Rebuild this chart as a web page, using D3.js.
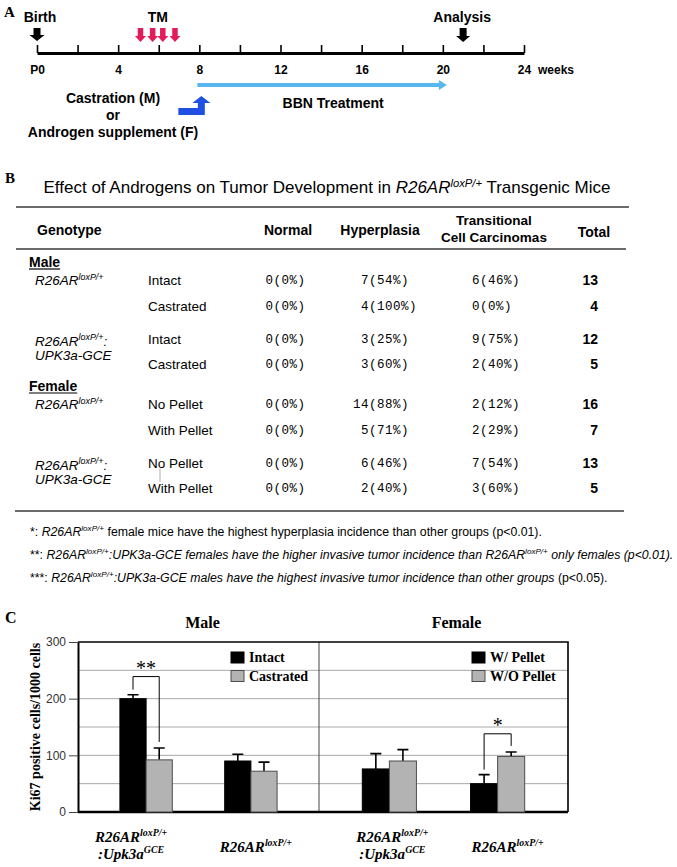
<!DOCTYPE html>
<meta charset="utf-8">
<head>
<title>Androgens and tumor development</title>
<script src="https://d3js.org/d3.v7.min.js"></script>
</head>
<style>
body { margin: 0; background: #fff; }
svg { display: block; }
</style>
<body>
<svg width="677" height="867"></svg>
<script>

// ---- panel A : timeline, in weeks ----
let weekTicks = d3.range(0, 25, 2);
let birthWeek = 0;
let tmWeeks = [5.1, 5.7, 6.2, 6.8];
let analysisWeek = 21;
let surgeryWeek = 8;
let bbnWeeks = [8, 20.2];

// ---- panel B : table ----
let rowSex = ["Male", "Male", "Male", "Male", "Female", "Female", "Female", "Female"];
let rowGenotype = ["single", "single", "double", "double", "single", "single", "double", "double"];
let rowCondition = ["Intact", "Castrated", "Intact", "Castrated", "No Pellet", "With Pellet", "No Pellet", "With Pellet"];
let normalN = [0, 0, 0, 0, 0, 0, 0, 0];
let normalPct = [0, 0, 0, 0, 0, 0, 0, 0];
let hyperN = [7, 4, 3, 3, 14, 5, 6, 2];
let hyperPct = [54, 100, 25, 60, 88, 71, 46, 40];
let tccN = [6, 0, 9, 2, 2, 2, 7, 3];
let tccPct = [46, 0, 75, 40, 12, 29, 54, 60];
let totals = [13, 4, 12, 5, 16, 7, 13, 5];

// ---- panel C : Ki67 positive cells / 1000 cells ----
let cGroups = ["R26AR:Upk3a", "R26AR"];
let intactMean = [200, 90];
let intactErr = [7, 12];
let castratedMean = [92, 72];
let castratedErr = [21, 16];
let withPelletMean = [76, 50];
let withPelletErr = [27, 16];
let withoutPelletMean = [90, 98];
let withoutPelletErr = [20, 8];
let yTicks = [0, 100, 200, 300];

let sans = '"Liberation Sans", Arial, sans-serif';
let serif = '"Liberation Serif", "Times New Roman", serif';
let mono = '"Liberation Mono", "Courier New", monospace';

let svg = d3.select("svg");

// text with italic / superscript pieces: parts = [[text, {it, sup, b}]]
function rich(g, x, y, size, family, parts) {
  let t = g.append("text").attr("x", x).attr("y", y)
    .style("font-family", family).style("font-size", size + "px");
  let lift = 0;
  parts.forEach(function(p) {
    let o = p[1] || {};
    let s = t.append("tspan").text(p[0]);
    if (o.it) s.style("font-style", "italic");
    if (o.b) s.style("font-weight", "bold");
    if (o.sup) {
      s.style("font-size", (size * 0.66) + "px");
      if (!lift) { lift = size * 0.38; s.attr("dy", -lift); }
    } else if (lift) {
      s.attr("dy", lift); lift = 0;
    }
  });
  return t;
}

function label(g, x, y, txt, size, family, weight, anchor) {
  return g.append("text").attr("x", x).attr("y", y).text(txt)
    .style("font-family", family).style("font-size", size + "px")
    .style("font-weight", weight || "normal")
    .attr("text-anchor", anchor || "start");
}

function downArrow(g, cx, top, bot, sw, hw, hh, color) {
  g.append("path")
    .attr("d", `M${cx - sw / 2},${top}H${cx + sw / 2}V${bot - hh}H${cx + hw / 2}L${cx},${bot}L${cx - hw / 2},${bot - hh}H${cx - sw / 2}Z`)
    .attr("fill", color);
}

/* ================= A ================= */
let gA = svg.append("g");
let xw = d3.scaleLinear().domain([0, 24]).range([37, 524]);
let axisY = 53;

label(gA, 4, 17, "A", 15, serif, "bold");

gA.append("g")
  .attr("transform", "translate(0," + axisY + ")")
  .call(d3.axisBottom(xw).tickValues(weekTicks)
    .tickSizeInner(-8).tickSizeOuter(0).tickPadding(12)
    .tickFormat(d => d % 4 ? "" : (d === 0 ? "P0" : d)))
  .call(g => {
    g.select(".domain").attr("stroke-width", 3);
    g.selectAll(".tick line").attr("stroke-width", 1.6);
    g.selectAll(".tick text").style("font-family", sans).style("font-size", "12px").style("font-weight", "bold");
  });
label(gA, xw(24) + 14, 74, "weeks", 12, sans, "bold");

downArrow(gA, xw(birthWeek), 28, 41, 7, 15, 6, "#000");
label(gA, xw(birthWeek) + 3, 22, "Birth", 14, sans, "bold", "middle");

tmWeeks.forEach(w => downArrow(gA, xw(w), 28, 42, 5.5, 11, 6, "#e31b5b"));
label(gA, d3.mean(tmWeeks, xw), 22, "TM", 14, sans, "bold", "middle");

downArrow(gA, xw(analysisWeek), 28, 42, 7, 14, 6, "#000");
label(gA, xw(analysisWeek) - 1, 22, "Analysis", 14, sans, "bold", "middle");

// BBN treatment arrow
let bx0 = xw(bbnWeeks[0]) - 2, bx1 = xw(bbnWeeks[1]);
gA.append("path")
  .attr("d", `M${bx0},83H${bx1 - 8}V80L${bx1},85L${bx1 - 8},90V87H${bx0}Z`)
  .attr("fill", "#5ab6ee");
label(gA, (xw(bbnWeeks[0]) + bx1) / 2 + 10, 108, "BBN Treatment", 14, sans, "bold", "middle");

// castration / androgen bent arrow
let cx = xw(surgeryWeek) + 2;
gA.append("path")
  .attr("d", `M${cx - 23},108H${cx - 3.5}V103H${cx - 9}L${cx},96L${cx + 9},103H${cx + 3.5}V115H${cx - 23}Z`)
  .attr("fill", "#1f4fe3");
label(gA, 113, 103, "Castration (M)", 14, sans, "bold", "middle");
label(gA, 113, 120, "or", 14, sans, "bold", "middle");
label(gA, 113, 137, "Androgen supplement (F)", 14, sans, "bold", "middle");

/* ================= B ================= */
let gB = svg.append("g");
label(gB, 5, 183, "B", 15, serif, "bold");
rich(gB, 327, 193, 17, sans, [
  ["Effect of Androgens on Tumor Development in "],
  ["R26AR", {it: true}], ["loxP/+", {it: true, sup: true}],
  [" Transgenic Mice"]
]).attr("text-anchor", "middle");

function rule(y, x0, x1) {
  gB.append("line").attr("x1", x0).attr("x2", x1).attr("y1", y).attr("y2", y)
    .attr("stroke", "#3a3a3a").attr("stroke-width", 1.6);
}
rule(207, 16, 629);
rule(249, 16, 626);
rule(511, 15, 624);

label(gB, 37, 235, "Genotype", 14, sans, "bold");
label(gB, 288, 235, "Normal", 14, sans, "bold", "middle");
label(gB, 380, 235, "Hyperplasia", 14, sans, "bold", "middle");
label(gB, 494, 225, "Transitional", 13.5, sans, "bold", "middle");
label(gB, 494, 241.5, "Cell Carcinomas", 13.5, sans, "bold", "middle");
label(gB, 594, 237, "Total", 14, sans, "bold", "middle");

// row centres
let sexIdx = d => d === "Male" ? 0 : 1;
let rowY = rowSex.map((s, i) => 280 + 25.5 * i + 7.5 * (i % 4 >= 2 ? 1 : 0) + 22 * sexIdx(s));

["Male", "Female"].forEach(s => {
  let first = rowSex.indexOf(s);
  let t = label(gB, 29, rowY[first] - 13, s, 14, sans, "bold");
  let w = t.node().getComputedTextLength();
  gB.append("line").attr("x1", 29).attr("x2", 29 + w)
    .attr("y1", rowY[first] - 11).attr("y2", rowY[first] - 11)
    .attr("stroke", "#000").attr("stroke-width", 1.2);
});

rowGenotype.forEach((g, i) => {
  if (i % 2) return;
  let y = rowY[i];
  if (g === "single") {
    rich(gB, 35, y + 5, 13.5, sans, [["R26AR", {it: true}], ["loxP/+", {it: true, sup: true}]]);
  } else {
    rich(gB, 35, y + 7, 13.5, sans, [["R26AR", {it: true}], ["loxP/+", {it: true, sup: true}], [":", {it: true}]]);
    label(gB, 35, y + 21, "UPK3a-GCE", 13.5, sans).style("font-style", "italic");
  }
});
// small stray connector in the female double-transgenic block
gB.append("line").attr("x1", 160).attr("x2", 160)
  .attr("y1", rowY[6] + 6).attr("y2", rowY[7] - 6)
  .attr("stroke", "#999").attr("stroke-width", 0.8);

let cw = 8;
function cell(x, y, n, p) {
  let s = String(n);
  gB.append("text").attr("x", x - s.length * cw).attr("y", y + 4)
    .text(s + "(" + p + "%)")
    .style("font-family", mono).style("font-size", "12.5px")
    .style("letter-spacing", "0.5px");
}
rowY.forEach((y, i) => {
  label(gB, 148, y + 5, rowCondition[i], 13.5, sans);
  cell(273.5, y, normalN[i], normalPct[i]);
  cell(369, y, hyperN[i], hyperPct[i]);
  cell(480, y, tccN[i], tccPct[i]);
  label(gB, 598, y + 5, totals[i], 14, sans, "bold", "end");
});

// footnotes
let fn = 12.3;
rich(gB, 30, 536, fn, sans, [
  ["*:  "], ["R26AR", {it: true}], ["loxP/+", {it: true, sup: true}],
  [" female mice have the highest hyperplasia incidence than other groups (p<0.01)."]
]);
rich(gB, 30, 559, fn, sans, [
  ["**: "], ["R26AR", {it: true}], ["loxP/+", {it: true, sup: true}],
  [":UPK3a-GCE females have the higher invasive tumor incidence than R26AR", {it: true}],
  ["loxP/+", {it: true, sup: true}], [" only females (p<0.01).", {it: true}]
]);
rich(gB, 30, 582, fn, sans, [
  ["***: "], ["R26AR", {it: true}], ["loxP/+", {it: true, sup: true}],
  [":UPK3a-GCE males have the highest invasive tumor incidence than other groups", {it: true}],
  [" (p<0.05)."]
]);

/* ================= C ================= */
let gC = svg.append("g");
let plot = {l: 78, r: 568, t: 642, b: 812, split: 319};
let y = d3.scaleLinear().domain([0, 300]).range([plot.b, plot.t]);

label(gC, 5, 623, "C", 16, serif, "bold");

// grid
gC.selectAll(".grid").data(d3.range(50, 300, 50)).enter().append("line")
  .attr("class", "grid")
  .attr("x1", plot.l).attr("x2", plot.r)
  .attr("y1", d => y(d)).attr("y2", d => y(d))
  .attr("stroke", "#a8a8a8").attr("stroke-width", 1);

gC.append("line").attr("x1", plot.split).attr("x2", plot.split)
  .attr("y1", plot.t).attr("y2", plot.b).attr("stroke", "#444").attr("stroke-width", 1);
gC.append("path").attr("d", `M${plot.l},${plot.t}H${plot.r}V${plot.b}`)
  .attr("fill", "none").attr("stroke", "#000").attr("stroke-width", 1.6);
gC.append("line").attr("x1", plot.l).attr("x2", plot.r).attr("y1", plot.b).attr("y2", plot.b)
  .attr("stroke", "#000").attr("stroke-width", 2.5);

gC.append("g").attr("transform", "translate(" + plot.l + ",0)")
  .call(d3.axisLeft(y).tickValues(yTicks).tickSize(9).tickSizeOuter(0).tickPadding(3))
  .call(g => {
    g.select(".domain").attr("stroke-width", 2);
    g.selectAll(".tick line").attr("stroke", "#444");
    g.selectAll(".tick text").style("font-family", sans).style("font-size", "12px").attr("fill", "#333");
  });

label(gC, 0, 0, "Ki67 positive cells/1000 cells", 14, serif, "bold", "middle")
  .attr("transform", "translate(40,727) rotate(-90)");

let panels = [
  {sex: "Male", range: [plot.l, plot.split], series: ["Intact", "Castrated"],
   means: [intactMean, castratedMean], errs: [intactErr, castratedErr], sig: 0, star: "**", titleDx: 4},
  {sex: "Female", range: [plot.split, plot.r], series: ["W/ Pellet", "W/O Pellet"],
   means: [withPelletMean, withoutPelletMean], errs: [withPelletErr, withoutPelletErr], sig: 1, star: "*", titleDx: 13}
];
let fills = ["#000", "#b3b3b3"];
let strokes = ["#000", "#4d4d4d"];
let labelDx = [[-15, 5], [3, 10]];

panels.forEach((p, pi) => {
  let x0 = d3.scaleBand().domain(cGroups).range(p.range).paddingInner(0.5).paddingOuter(0.4);
  let x1 = d3.scaleBand().domain([0, 1]).range([0, x0.bandwidth()]);

  label(gC, (p.range[0] + p.range[1]) / 2 + p.titleDx, 628, p.sex, 16, serif, "bold", "middle");

  p.series.forEach((s, si) => {
    let rows = cGroups.map((g, gi) => ({g: g, v: p.means[si][gi], e: p.errs[si][gi]}));
    let cxOf = d => x0(d.g) + x1(si) + x1.bandwidth() / 2;

    // error bars (upper only)
    gC.selectAll(null).data(rows).enter().append("path")
      .attr("d", d => `M${cxOf(d)},${y(d.v)}V${y(d.v + d.e)}M${cxOf(d) - 5.5},${y(d.v + d.e)}H${cxOf(d) + 5.5}`)
      .attr("stroke", "#000").attr("stroke-width", 1.6).attr("fill", "none");

    gC.selectAll(null).data(rows).enter().append("rect")
      .attr("x", d => x0(d.g) + x1(si))
      .attr("y", d => y(d.v))
      .attr("width", x1.bandwidth())
      .attr("height", d => y(0) - y(d.v))
      .attr("fill", fills[si]).attr("stroke", strokes[si]).attr("stroke-width", 1);

    // legend
    let lx = p.range[0] + 153, ly = 652 + si * 18.5;
    gC.append("rect").attr("x", lx).attr("y", ly).attr("width", 13).attr("height", 11)
      .attr("fill", fills[si]).attr("stroke", strokes[si]);
    label(gC, lx + 18, ly + 10, s, 14, serif, "bold");
  });

  // significance bracket
  let g = cGroups[p.sig];
  let xa = x0(g) + x1(0) + x1.bandwidth() / 2, xb = x0(g) + x1(1) + x1.bandwidth() / 2;
  let topA = p.means[0][p.sig] + p.errs[0][p.sig], topB = p.means[1][p.sig] + p.errs[1][p.sig];
  let by = y(Math.max(topA, topB) + 32);
  gC.append("path")
    .attr("d", `M${xa},${y(topA) - 5}V${by}H${xb}V${y(topB) - 6}`)
    .attr("fill", "none").attr("stroke", "#000").attr("stroke-width", 1);
  label(gC, (xa + xb) / 2, by - 2, p.star, 20, serif, "normal", "middle");

  // category labels
  cGroups.forEach((c, gi) => {
    let mx = x0(c) + x0.bandwidth() / 2 + labelDx[pi][gi];
    let l1 = [["R26AR"], ["loxP/+", {sup: true}]];
    if (c === "R26AR:Upk3a") {
      rich(gC, mx, 842, 15, serif, l1).attr("text-anchor", "middle")
        .style("font-style", "italic").style("font-weight", "bold");
      rich(gC, mx, 859, 15, serif, [[":Upk3a"], ["GCE", {sup: true}]]).attr("text-anchor", "middle")
        .style("font-style", "italic").style("font-weight", "bold");
    } else {
      rich(gC, mx, 852, 15, serif, l1).attr("text-anchor", "middle")
        .style("font-style", "italic").style("font-weight", "bold");
    }
  });
});

</script>
</body>
